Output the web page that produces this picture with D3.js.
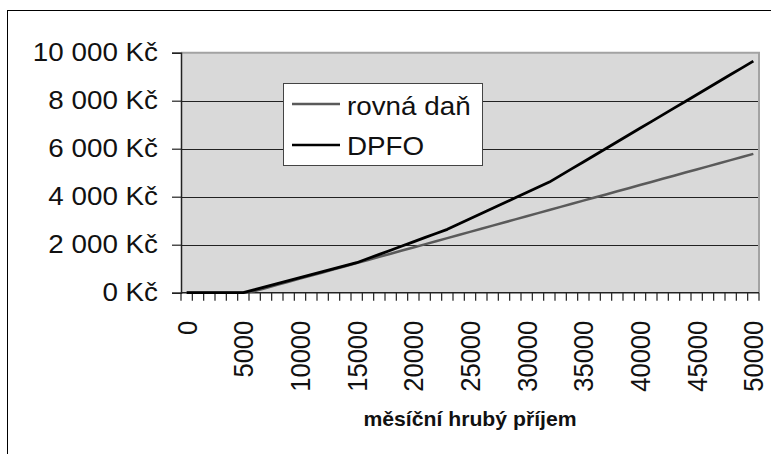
<!DOCTYPE html>
<html>
<head>
<meta charset="utf-8">
<script src="https://cdn.jsdelivr.net/npm/d3@7"></script>
<style>
  html, body { margin: 0; padding: 0; background: #fff; }
  svg { display: block; font-family: "Liberation Sans", Arial, sans-serif; }
</style>
</head>
<body>
<svg id="chart" width="771" height="454"></svg>
<script>
// Monthly gross income categories (Kč), one per 1000
const categories = [
  0, 1000, 2000, 3000, 4000, 5000, 6000, 7000, 8000, 9000,
  10000, 11000, 12000, 13000, 14000, 15000, 16000, 17000, 18000, 19000,
  20000, 21000, 22000, 23000, 24000, 25000, 26000, 27000, 28000, 29000,
  30000, 31000, 32000, 33000, 34000, 35000, 36000, 37000, 38000, 39000,
  40000, 41000, 42000, 43000, 44000, 45000, 46000, 47000, 48000, 49000,
  50000
];

// Flat tax ("rovná daň"), Kč per month
const flatTax = [
  0, 0, 0, 0, 0, 0, 65, 195, 325, 455,
  585, 715, 845, 975, 1105, 1235, 1365, 1495, 1625, 1755,
  1885, 2015, 2145, 2275, 2405, 2535, 2665, 2795, 2925, 3055,
  3185, 3315, 3445, 3575, 3705, 3835, 3965, 4095, 4225, 4355,
  4485, 4615, 4745, 4875, 5005, 5135, 5265, 5395, 5525, 5655,
  5785
];

// Progressive personal income tax (DPFO), Kč per month
const dpfo = [
  0, 0, 0, 0, 0, 0, 125, 250, 375, 500,
  625, 750, 875, 1000, 1125, 1250, 1424, 1598, 1771, 1945,
  2119, 2293, 2466, 2640, 2859, 3078, 3297, 3515, 3734, 3953,
  4172, 4390, 4609, 4889, 5169, 5449, 5729, 6009, 6289, 6569,
  6849, 7129, 7409, 7689, 7969, 8249, 8529, 8809, 9089, 9369,
  9649
];

const seriesNames = ["rovná daň", "DPFO"];
const yTicks = [0, 2000, 4000, 6000, 8000, 10000];
const yTickLabels = ["0 Kč", "2 000 Kč", "4 000 Kč", "6 000 Kč", "8 000 Kč", "10 000 Kč"];
const xTickLabels = ["0", "5000", "10000", "15000", "20000", "25000", "30000", "35000", "40000", "45000", "50000"];
const xTitle = "měsíční hrubý příjem";

// text is drawn slightly squat (vertical factor)
const SQ = 0.92;
const FS = 27.8;

const svg = d3.select("#chart");

// outer chart frame (runs off the right and bottom edges)
svg.append("rect")
  .attr("x", 7.5).attr("y", 10.5)
  .attr("width", 800).attr("height", 500)
  .attr("fill", "#fff").attr("stroke", "#000").attr("stroke-width", 1);

const plot = { left: 181, right: 759, top: 52.7, bottom: 292.7 };

const x = d3.scaleBand()
  .domain(categories)
  .range([plot.left, plot.right])
  .paddingInner(0).paddingOuter(0);
const xc = d => x(d) + x.bandwidth() / 2;

const y = d3.scaleLinear()
  .domain([0, 10000])
  .range([plot.bottom, plot.top]);

// plot area background
svg.append("rect")
  .attr("x", plot.left).attr("y", plot.top)
  .attr("width", plot.right - plot.left).attr("height", plot.bottom - plot.top)
  .attr("fill", "#d9d9d9");

// horizontal gridlines
svg.append("g")
  .selectAll("line")
  .data(yTicks.filter(v => v > 0 && v < 10000))
  .join("line")
  .attr("x1", plot.left).attr("x2", plot.right)
  .attr("y1", d => Math.round(y(d)) + 0.5).attr("y2", d => Math.round(y(d)) + 0.5)
  .attr("stroke", "#222").attr("stroke-width", 1);

// plot border, top and right
svg.append("path")
  .attr("d", `M${plot.left},${plot.top} H${plot.right} V${plot.bottom}`)
  .attr("fill", "none").attr("stroke", "#a3a3a3").attr("stroke-width", 2);

// y axis
const yAxis = d3.axisLeft(y)
  .tickValues(yTicks)
  .tickSize(9)
  .tickPadding(14)
  .tickFormat((d, i) => yTickLabels[i]);
const gy = svg.append("g")
  .attr("transform", `translate(${plot.left},0)`)
  .call(yAxis);
gy.select(".domain").attr("stroke", "#222").attr("stroke-width", 1.5);
gy.selectAll(".tick line").attr("stroke", "#222").attr("stroke-width", 1.2);
gy.selectAll(".tick text")
  .attr("font-size", FS)
  .attr("font-family", "Liberation Sans, Arial, sans-serif")
  .attr("fill", "#111")
  .attr("transform", `scale(1,${SQ})`);

// x axis line and tick marks at category boundaries
const gx = svg.append("g");
gx.append("line")
  .attr("x1", plot.left).attr("x2", plot.right)
  .attr("y1", plot.bottom).attr("y2", plot.bottom)
  .attr("stroke", "#222").attr("stroke-width", 1.5);
const bounds = categories.map(c => x(c)).concat([x(categories[categories.length - 1]) + x.bandwidth()]);
gx.selectAll("line.tk")
  .data(bounds)
  .join("line")
  .attr("class", "tk")
  .attr("x1", d => d).attr("x2", d => d)
  .attr("y1", plot.bottom).attr("y2", plot.bottom + 8)
  .attr("stroke", "#222").attr("stroke-width", 1.2);

// rotated category labels
gx.selectAll("text")
  .data(xTickLabels)
  .join("text")
  .attr("transform", d => `translate(${xc(+d)},${plot.bottom + 28}) scale(1,${SQ}) rotate(-90)`)
  .attr("text-anchor", "end")
  .attr("dy", "0.36em")
  .attr("font-size", FS)
  .attr("fill", "#111")
  .text(d => d);

// axis title
svg.append("text")
  .attr("transform", `translate(${(plot.left + plot.right) / 2},426) scale(1,${SQ})`)
  .attr("text-anchor", "middle")
  .attr("font-size", 21.2)
  .attr("font-weight", "bold")
  .attr("fill", "#111")
  .text(xTitle);

// series lines
const line = d3.line()
  .x((d, i) => xc(categories[i]))
  .y(d => y(d));

svg.append("path")
  .datum(flatTax)
  .attr("d", line)
  .attr("fill", "none")
  .attr("stroke", "#5a5a5a")
  .attr("stroke-width", 2.5)
  .attr("stroke-linejoin", "round");

svg.append("path")
  .datum(dpfo)
  .attr("d", line)
  .attr("fill", "none")
  .attr("stroke", "#000")
  .attr("stroke-width", 2.8)
  .attr("stroke-linejoin", "round");

// legend
const lg = svg.append("g");
lg.append("rect")
  .attr("x", 283.5).attr("y", 83.5)
  .attr("width", 199).attr("height", 82)
  .attr("fill", "#fff").attr("stroke", "#444").attr("stroke-width", 1);
const legendColors = ["#5a5a5a", "#000"];
const legendLineY = [104, 145];
const legendBase = [115, 155];
seriesNames.forEach((name, i) => {
  lg.append("line")
    .attr("x1", 292).attr("x2", 340)
    .attr("y1", legendLineY[i]).attr("y2", legendLineY[i])
    .attr("stroke", legendColors[i]).attr("stroke-width", 2.6);
  lg.append("text")
    .attr("transform", `translate(347,${legendBase[i]}) scale(1,${SQ})`)
    .attr("font-size", FS)
    .attr("fill", "#111")
    .text(name);
});
</script>
</body>
</html>
